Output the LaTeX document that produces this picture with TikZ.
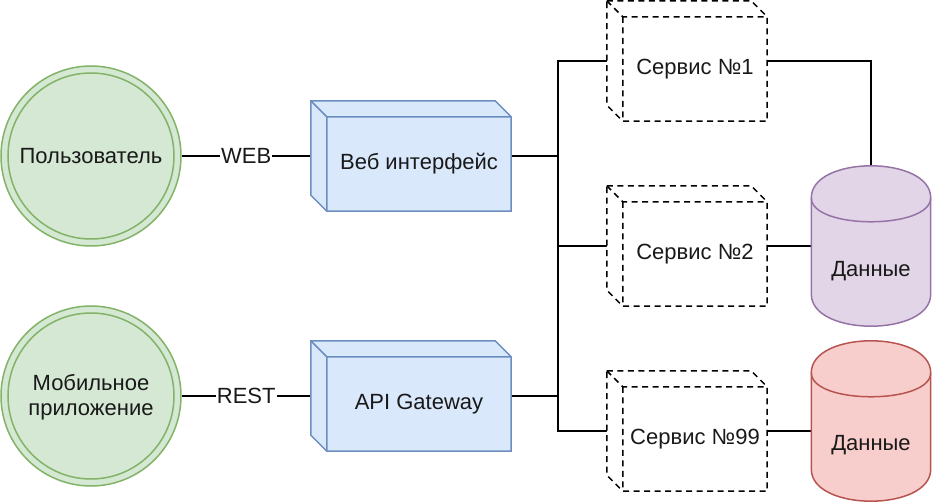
\documentclass[tikz,border=0pt]{standalone}
\usepackage{fontspec}
\setmainfont{Liberation Sans}
\usetikzlibrary{calc}
\definecolor{gfill}{HTML}{D5E8D4}\definecolor{gline}{HTML}{82B366}
\definecolor{bfill}{HTML}{DAE8FC}\definecolor{bline}{HTML}{6C8EBF}
\definecolor{pfill}{HTML}{E1D5E7}\definecolor{pline}{HTML}{9673A6}
\definecolor{rfill}{HTML}{F8CECC}\definecolor{rline}{HTML}{B85450}
\newcommand\cubeshape[2]{%
 \path[#2] (#1.north west) -- ([xshift=-16pt]#1.north east) -- ([yshift=-16pt]#1.north east) -- (#1.south east) -- ([xshift=16pt]#1.south west) -- ([yshift=16pt]#1.south west) -- cycle;
 \path[#2,fill=none] (#1.north west) -- ([xshift=16pt,yshift=-16pt]#1.north west) -- ([yshift=-16pt]#1.north east) ([xshift=16pt,yshift=-16pt]#1.north west) -- ([xshift=16pt]#1.south west);
}
\newcommand\cylshape[2]{%
 \path[#2] ($(#1.north west)+(0,-32pt)$) .. controls ($(#1.north west)+(0,10.67pt)$) and ($(#1.north east)+(0,10.67pt)$) .. ($(#1.north east)+(0,-32pt)$) -- ($(#1.south east)+(0,32pt)$) .. controls ($(#1.south east)+(0,-10.67pt)$) and ($(#1.south west)+(0,-10.67pt)$) .. ($(#1.south west)+(0,32pt)$) -- cycle;
 \path[#2,fill=none] ($(#1.north west)+(0,-32pt)$) .. controls ($(#1.north west)+(0,-64pt)$) and ($(#1.north east)+(0,-64pt)$) .. ($(#1.north east)+(0,-32pt)$);
}
\tikzset{
 txt/.style={font=\fontsize{22}{25.5}\selectfont, text=black!90, align=center},
 user/.style={circle, minimum size=180pt, inner sep=0pt, draw=gline, fill=gfill, line width=1.5pt, txt},
 frame/.style={rectangle, inner sep=0pt, draw=none},
 bluebox/.style={draw=bline, fill=bfill, line width=1.5pt, line join=miter},
 dashbox/.style={draw=black, fill=white, line width=1.5pt, dash pattern=on 6pt off 4.5pt},
 purplecyl/.style={draw=pline, fill=pfill, line width=1.5pt},
 redcyl/.style={draw=rline, fill=rfill, line width=1.5pt},
 conn/.style={draw=black, line width=1.5pt},
 lbl/.style={txt, fill=white, inner sep=1pt}
}
\begin{document}
\begin{tikzpicture}[x=1pt,y=-1pt]
\useasboundingbox[fill=white] (0,0) rectangle (932,502);
% actors
\node[user] (u) at (91,156) {};
\draw[draw=gline, line width=1.5pt] (u.center) circle (83pt);
\node[txt] at (u.center) {Пользователь};
\node[user] (m) at (91,396) {};
\draw[draw=gline, line width=1.5pt] (m.center) circle (83pt);
\node[txt] at ($(m.center)+(0,-1pt)$) {Мобильное\\приложение};
% cubes
\node[frame, minimum width=200pt, minimum height=110pt] (web) at (411,156) {};
\node[frame, minimum width=200pt, minimum height=110pt] (api) at (411,396) {};
\node[frame, minimum width=160pt, minimum height=120pt] (s1) at (687,61) {};
\node[frame, minimum width=160pt, minimum height=120pt] (s2) at (687,246) {};
\node[frame, minimum width=160pt, minimum height=120pt] (s3) at (687,431) {};
\node[frame, minimum width=119pt, minimum height=160pt] (d1) at (871,246) {};
\node[frame, minimum width=119pt, minimum height=160pt] (d2) at (871,421) {};
\coordinate (bx) at (558,0);
% connectors
\draw[conn] (u.east) -- node[lbl]{WEB} (u.east -| web.west);
\draw[conn] (m.east) -- node[lbl]{REST} (m.east -| api.west);
\draw[conn] (web.east) -- (web.east -| bx) |- (s1.west);
\draw[conn] (web.east -| bx) |- (s2.west);
\draw[conn] (api.east) -- (api.east -| bx) |- (s2.west);
\draw[conn] (api.east -| bx) |- (s3.west);
\draw[conn] (s1.east) -| (d1.north);
\draw[conn] (s2.east) -- (s2.east -| d1.west);
\draw[conn] (s3.east) -- (s3.east -| d2.west);
% shapes
\cubeshape{web}{bluebox}
\cubeshape{api}{bluebox}
\cubeshape{s1}{dashbox}
\cubeshape{s2}{dashbox}
\cubeshape{s3}{dashbox}
\cylshape{d1}{purplecyl}
\cylshape{d2}{redcyl}
% texts
\node[txt] at ($(web.center)+(8pt,-8pt)$) {Веб интерфейс};
\node[txt] at ($(api.center)+(8pt,-8pt)$) {API Gateway};
\node[txt] at ($(s1.center)+(8pt,-8pt)$) {Сервис №1};
\node[txt] at ($(s2.center)+(8pt,-8pt)$) {Сервис №2};
\node[txt] at ($(s3.center)+(8pt,-8pt)$) {Сервис №99};
\node[txt] at ($(d1.center)+(0,-25pt)$) {Данные};
\node[txt] at ($(d2.center)+(0,-24pt)$) {Данные};
\end{tikzpicture}
\end{document}
